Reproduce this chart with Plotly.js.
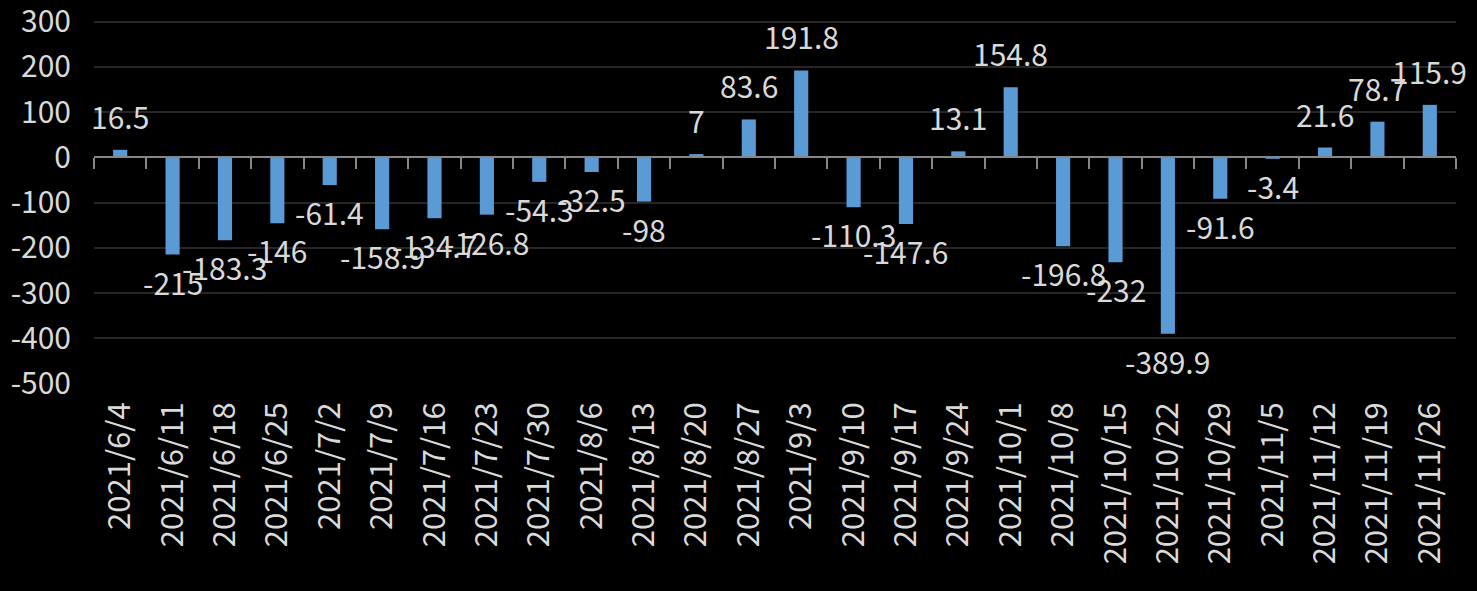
<!DOCTYPE html>
<html>
<head>
<meta charset="utf-8">
<script src="https://cdn.plot.ly/plotly-3.0.1.min.js"></script>
<style>html,body{margin:0;padding:0;background:#000;}#chart{width:1477px;height:591px;}</style>
</head>
<body>
<div id="chart"></div>
<script>
const dates = ["2021/6/4","2021/6/11","2021/6/18","2021/6/25","2021/7/2","2021/7/9","2021/7/16","2021/7/23","2021/7/30","2021/8/6","2021/8/13","2021/8/20","2021/8/27","2021/9/3","2021/9/10","2021/9/17","2021/9/24","2021/10/1","2021/10/8","2021/10/15","2021/10/22","2021/10/29","2021/11/5","2021/11/12","2021/11/19","2021/11/26"];
const values = [16.5,-215,-183.3,-146,-61.4,-158.9,-134.7,-126.8,-54.3,-32.5,-98,7,83.6,191.8,-110.3,-147.6,13.1,154.8,-196.8,-232,-389.9,-91.6,-3.4,21.6,78.7,115.9];
const yTicks = [300,200,100,0,-100,-200,-300,-400,-500];

const FONT = '"Noto Sans CJK TC", "Noto Sans", sans-serif';
const TXT = '#d9d9d9';
const Y_RANGE = [-501, 310];

const bars = {
  type: 'bar', x: dates, y: values, width: 0.27,
  marker: {color: '#5b9bd5', line: {width: 0}},
  hoverinfo: 'x+y'
};
const anchorTrace = {
  type: 'scatter', mode: 'markers', x: dates, y: values,
  xaxis: 'x2', yaxis: 'y', marker: {opacity: 0}, hoverinfo: 'skip', showlegend: false
};

const annotations = dates.map((d, i) => ({
  x: d, y: values[i], xref: 'x', yref: 'y',
  text: String(values[i]), showarrow: false,
  xanchor: 'center', yanchor: 'middle',
  yshift: values[i] >= 0 ? 34 : -27,
  font: {family: FONT, size: 30, color: TXT}
}));

const layout = {
  width: 1477, height: 591,
  paper_bgcolor: '#000', plot_bgcolor: '#000',
  margin: {l: 94, r: 21, t: 17, b: 207},
  showlegend: false,
  font: {family: FONT, size: 30, color: TXT},
  xaxis: {
    type: 'category', categoryarray: dates, range: [-0.5, dates.length - 0.5],
    showgrid: false, zeroline: false, showline: false,
    ticks: 'outside', ticklen: 5, tickcolor: 'rgba(0,0,0,0)',
    tickangle: -90, tickfont: {family: FONT, size: 31, color: TXT}
  },
  xaxis2: {
    type: 'category', categoryarray: dates, range: [-0.5, dates.length - 0.5],
    overlaying: 'x', anchor: 'free', position: (0 - Y_RANGE[0]) / (Y_RANGE[1] - Y_RANGE[0]), side: 'bottom',
    showgrid: false, zeroline: false, showticklabels: false,
    showline: true, linecolor: '#868686', linewidth: 2,
    ticks: 'outside', tickson: 'boundaries', ticklen: 11, tickwidth: 2, tickcolor: '#868686'
  },
  yaxis: {
    range: Y_RANGE, tickvals: yTicks, ticktext: yTicks.map(String),
    showgrid: true, gridcolor: '#262626', gridwidth: 2,
    zeroline: false, showline: false, ticklabeloverflow: 'allow',
    ticks: 'outside', ticklen: 16, tickcolor: 'rgba(0,0,0,0)',
    tickfont: {family: FONT, size: 30, color: TXT}
  },
  annotations: annotations
};

Plotly.newPlot('chart', [bars, anchorTrace], layout, {displayModeBar: false, staticPlot: true});
</script>
</body>
</html>
